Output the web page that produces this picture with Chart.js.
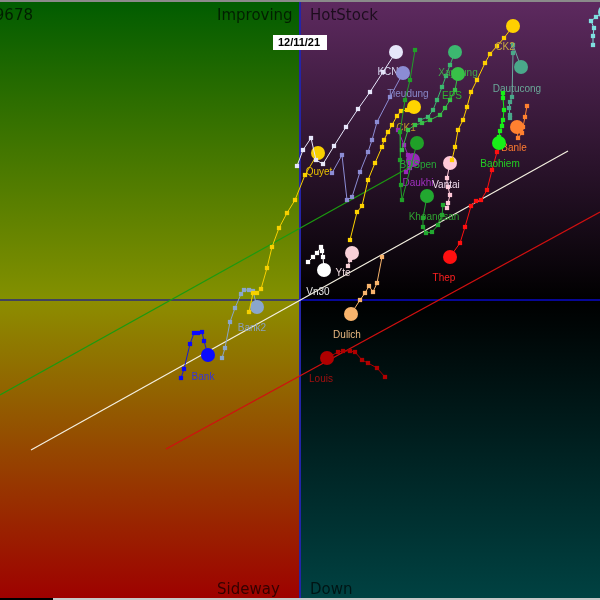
<!DOCTYPE html>
<html><head><meta charset="utf-8">
<script src="https://cdn.jsdelivr.net/npm/chart.js@4/dist/chart.umd.min.js"></script>
<style>html,body{margin:0;padding:0;background:#000;overflow:hidden}canvas{display:block}</style>
</head><body>
<canvas id="c" width="600" height="600"></canvas>
<script>
// ---- data (RS-Ratio on x, RS-Momentum on y, centre 100) ----
const xRange = [70, 130];
const yRange = [70, 130];
const centre = 100;
const dateLabel = '12/11/21';
const indexValue = '1.09678';
const quadrantNames = ['Improving', 'HotStock', 'Sideway', 'Down'];

const baohiem  = [[120.3,120.7],[120.3,120.2],[120.4,119.0],[120.3,118.0],[120.2,117.4],[120.0,116.9],[119.9,116.3],[119.9,115.7]];
const banle    = [[122.7,119.4],[122.5,118.3],[122.3,117.3],[122.2,116.7],[121.8,116.2],[121.7,117.3]];
const thep     = [[119.7,114.8],[119.2,113.0],[118.7,111.0],[118.1,110.0],[117.6,109.9],[117.1,109.4],[116.5,107.3],[116.0,105.7],[115.0,104.3]];
const ck2      = [[115.2,114.0],[115.5,115.3],[115.8,117.0],[116.3,118.0],[116.7,119.3],[117.1,120.8],[117.7,122.0],[118.5,123.7],[119.0,124.6],[119.7,125.4],[120.4,126.2],[121.3,127.4]];
const dautucong= [[121.0,118.2],[121.0,118.5],[120.9,119.2],[121.0,119.8],[121.2,120.3],[121.3,124.7],[121.3,125.5],[122.1,123.3]];
const vantai   = [[114.7,109.2],[114.8,109.7],[115.0,110.5],[114.8,111.3],[114.7,112.2],[115.0,113.7]];
const khoangsan= [[114.3,109.5],[114.2,108.5],[113.8,107.5],[113.2,106.8],[112.6,106.7],[112.3,107.3],[112.3,108.2],[112.7,110.4]];
const eps      = [[110.2,115.0],[110.8,117.0],[111.5,117.5],[112.2,117.7],[113.0,118.0],[114.0,118.5],[114.5,119.2],[115.0,120.0],[115.5,121.0],[115.8,122.6]];
const xaydung  = [[112.0,118.0],[112.8,118.3],[113.3,119.0],[113.7,120.0],[114.2,121.3],[114.6,122.4],[115.0,123.5],[115.5,124.8]];
const bdspen   = [[111.5,125.0],[111.0,122.0],[110.5,120.0],[110.0,116.8],[110.0,114.0],[110.1,111.5],[110.2,110.0],[111.7,115.7]];
const daukhi   = [[109.8,117.0],[110.4,115.5],[110.8,114.5],[111.0,113.2],[110.6,112.8],[111.3,114.0]];
const ck1      = [[105.0,106.0],[105.7,108.8],[106.2,109.4],[106.8,112.0],[107.5,113.7],[108.2,115.3],[108.4,116.0],[108.8,116.8],[109.2,117.5],[109.7,118.4],[110.1,118.9],[110.7,119.0],[111.4,119.3]];
const tieudung = [[103.2,112.7],[104.2,114.5],[104.7,110.0],[105.2,110.3],[106.0,112.8],[106.8,114.8],[107.2,116.0],[107.7,117.8],[109.0,120.3],[110.3,122.7]];
const kcn      = [[99.7,113.4],[100.3,115.0],[101.1,116.2],[101.6,114.0],[102.3,113.6],[103.4,115.4],[104.6,117.3],[105.8,119.1],[107.0,120.8],[108.3,122.8],[109.6,124.8]];
const yte      = [[104.8,103.4],[105.0,104.0],[105.2,104.7]];
const vn30     = [[100.8,103.8],[101.3,104.3],[101.7,104.7],[102.1,105.3],[102.2,104.9],[102.3,104.3],[102.4,103.0]];
const quyet    = [[94.9,98.8],[95.3,100.7],[95.7,100.7],[96.1,101.1],[96.7,103.2],[97.2,105.3],[97.9,107.2],[98.7,108.7],[99.5,110.0],[100.5,112.5],[101.8,114.7]];
const dulich   = [[108.2,104.3],[107.7,101.7],[107.3,100.8],[106.9,101.4],[106.5,100.7],[106.0,100.0],[105.1,98.6]];
const louis    = [[108.5,92.3],[107.7,93.2],[106.8,93.7],[106.2,94.0],[105.5,94.8],[105.0,94.9],[104.3,94.9],[103.8,94.8],[102.7,94.2]];
const bank2    = [[92.2,94.2],[92.5,95.2],[93.0,97.8],[93.5,99.2],[94.1,100.6],[94.4,101.0],[94.9,101.0],[95.3,100.9],[95.7,99.3]];
const bank     = [[88.1,92.2],[88.4,93.1],[89.0,95.6],[89.4,96.7],[89.8,96.7],[90.2,96.8],[90.4,95.9],[90.8,94.5]];
const offEdge  = [[129.3,125.5],[129.3,126.4],[129.4,127.2],[129.1,127.9],[129.6,128.3],[130.5,128.8]];

// trend lines (two end points each)
const trendWhite = [[73.1,85.0],[126.8,114.9]];
const trendGreen = [[70.0,90.5],[111.0,113.3]];
const trendRed   = [[86.6,85.1],[130.0,108.8]];

// ---- styles (kept apart from the data) ----
const seriesList = [
  ['Baohiem', baohiem,  {c:'#18f018', t:'#22d022', dx:1}],
  ['Banle',   banle,    {c:'#ff8030', t:'#ff7a30', dx:-3}],
  ['Thep',    thep,     {c:'#ff1010', t:'#ff2020', dx:-6}],
  ['CK2',     ck2,      {c:'#ffd000', t:'#c8a840', dx:-8}],
  ['Dautucong',dautucong,{c:'#4aa88a', l:'#6aa8a0', t:'#6aa898', dx:-4, dy:22}],
  ['Vantai',  vantai,   {c:'#ffc8d8', t:'#f0dcee', dx:-4, dy:22}],
  ['Khoangsan',khoangsan,{c:'#22a830', t:'#30a030', dx:7}],
  ['EPS',     eps,      {c:'#38c048', t:'#30b030', dx:-6, dy:22}],
  ['Xaydung', xaydung,  {c:'#3cb870', t:'#40a848', dx:3}],
  ['BDSpen',  bdspen,   {c:'#20a028', t:'#28a838', dx:1, dy:22}],
  ['Daukhi',  daukhi,   {c:'#9828b8', t:'#a030c0', dx:5, dy:23}],
  ['CK1',     ck1,      {c:'#ffd400', t:'#c09a28', dx:-8}],
  ['Tieudung',tieudung, {c:'#8c8cd4', t:'#8888c8', dx:5}],
  ['KCN',     kcn,      {c:'#e6e6fa', t:'#d8d8f0', dx:-8, dy:20}],
  ['Yte',     yte,      {c:'#f8d0d8', t:'#f0dce0', dx:-9, dy:20}],
  ['Vn30',    vn30,     {c:'#ffffff', t:'#e8e8e8', dx:-6, dy:22}],
  ['Quyet',   quyet,    {c:'#f8d000', t:'#e8c000', dx:1, dy:19}],
  ['Dulich',  dulich,   {c:'#f8b46c', t:'#e8b880', dx:-4}],
  ['Louis',   louis,    {c:'#b00000', l:'#a80000', t:'#a01010', dx:-6}],
  ['Bank2',   bank2,    {c:'#8aa6cc', t:'#8aa0bc', dx:-5}],
  ['Bank',    bank,     {c:'#0a0aff', l:'#1a1ad0', t:'#3434d8', dx:-5, dy:22}],
  ['',        offEdge,  {c:'#7fe0e0', noLabel:true}]
];

function makeSet(name, pts, st) {
  const n = pts.length;
  return {
    label: name,
    data: pts.map(p => ({x: p[0], y: p[1]})),
    showLine: true,
    borderColor: st.l || st.c,
    borderWidth: 1,
    pointStyle: ctx => ctx.dataIndex === n - 1 ? 'circle' : 'rect',
    pointRadius: ctx => ctx.dataIndex === n - 1 ? 7 : 3,
    pointBackgroundColor: st.c,
    pointBorderColor: st.c,
    pointBorderWidth: 0,
    order: 0,
    tag: st.noLabel ? null : {text: name, color: st.t, dx: st.dx || -4, dy: st.dy || 21}
  };
}
function trendSet(pts, color) {
  return {
    data: pts.map(p => ({x: p[0], y: p[1]})),
    showLine: true, borderColor: color, borderWidth: 1.2,
    pointRadius: 0, order: 10, tag: null
  };
}

const datasets = seriesList.map(s => makeSet(s[0], s[1], s[2]));
datasets.push(trendSet(trendWhite, '#f4f0e0'));
datasets.push(trendSet(trendGreen, '#1c9a10'));
datasets.push(trendSet(trendRed, '#d01010'));

const background = {
  id: 'background',
  beforeDatasetsDraw(chart) {
    const {ctx, chartArea: a, scales: {x, y}} = chart;
    const cx = x.getPixelForValue(centre), cy = y.getPixelForValue(centre);
    function box(x0, y0, x1, y1, c0, c1) {
      const g = ctx.createLinearGradient(0, y0, 0, y1);
      g.addColorStop(0, c0); g.addColorStop(1, c1);
      ctx.fillStyle = g; ctx.fillRect(x0, y0, x1 - x0, y1 - y0);
    }
    ctx.save();
    box(a.left, a.top, cx, cy, '#005c00', '#849000');
    box(a.left, cy, cx, a.bottom, '#8c8e00', '#9e0000');
    box(cx, a.top, a.right, cy, '#5e2a60', '#000000');
    box(cx, cy, a.right, a.bottom, '#000000', '#004242');
    // top / bottom strips
    ctx.fillStyle = '#8a8a8a'; ctx.fillRect(a.left, a.top, a.right - a.left, 2);
    ctx.fillStyle = '#000'; ctx.fillRect(a.left, a.bottom - 2, a.right - a.left, 2);
    ctx.fillStyle = '#c8c8c8'; ctx.fillRect(53, a.bottom - 2, a.right - 53, 2);
    // centre lines
    ctx.lineWidth = 1.5;
    ctx.strokeStyle = '#2a2a7c';
    ctx.beginPath(); ctx.moveTo(a.left, cy); ctx.lineTo(cx, cy); ctx.stroke();
    ctx.strokeStyle = '#0a0ac8';
    ctx.beginPath(); ctx.moveTo(cx, cy); ctx.lineTo(a.right, cy); ctx.stroke();
    ctx.lineWidth = 2;
    ctx.strokeStyle = '#2424a8';
    ctx.beginPath(); ctx.moveTo(cx, a.top + 2); ctx.lineTo(cx, a.bottom - 2); ctx.stroke();
    // quadrant names
    ctx.font = '15px "DejaVu Sans"';
    ctx.fillStyle = 'rgba(0,0,0,0.68)';
    ctx.textBaseline = 'alphabetic';
    ctx.textAlign = 'left';
    ctx.fillText(quadrantNames[0], cx - 83, a.top + 20);
    ctx.fillText(quadrantNames[1], cx + 10, a.top + 20);
    ctx.fillText(quadrantNames[2], cx - 83, a.bottom - 6);
    ctx.fillText(quadrantNames[3], cx + 10, a.bottom - 6);
    ctx.textAlign = 'right';
    ctx.fillText(indexValue, a.left + 33, a.top + 20);
    ctx.restore();
  },
  afterDatasetsDraw(chart) {
    const {ctx, scales: {x}} = chart;
    const cx = x.getPixelForValue(centre);
    ctx.save();
    ctx.fillStyle = '#ffffff';
    ctx.fillRect(cx - 27, 35, 54, 15);
    ctx.fillStyle = '#000';
    ctx.font = 'bold 11px "Liberation Sans"';
    ctx.textAlign = 'center'; ctx.textBaseline = 'middle';
    ctx.fillText(dateLabel, cx - 1, 43);
    ctx.restore();
  }
};

const tags = {
  id: 'tags',
  afterDatasetDraw(chart, args) {
    const ds = chart.data.datasets[args.index];
    if (!ds.tag) return;
    const pts = args.meta.data;
    const head = pts[pts.length - 1];
    const ctx = chart.ctx;
    ctx.save();
    ctx.font = '10px "Liberation Sans"';
    ctx.fillStyle = ds.tag.color;
    ctx.textAlign = 'center'; ctx.textBaseline = 'middle';
    ctx.fillText(ds.tag.text, head.x + ds.tag.dx, head.y + ds.tag.dy);
    ctx.restore();
  }
};

new Chart(document.getElementById('c'), {
  type: 'scatter',
  data: {datasets},
  options: {
    responsive: false, animation: false, devicePixelRatio: 1,
    events: [],
    layout: {padding: 0, autoPadding: false},
    plugins: {legend: {display: false}, tooltip: {enabled: false}},
    scales: {
      x: {type: 'linear', min: xRange[0], max: xRange[1], display: false},
      y: {type: 'linear', min: yRange[0], max: yRange[1], display: false}
    }
  },
  plugins: [background, tags]
});
</script>
</body></html>
